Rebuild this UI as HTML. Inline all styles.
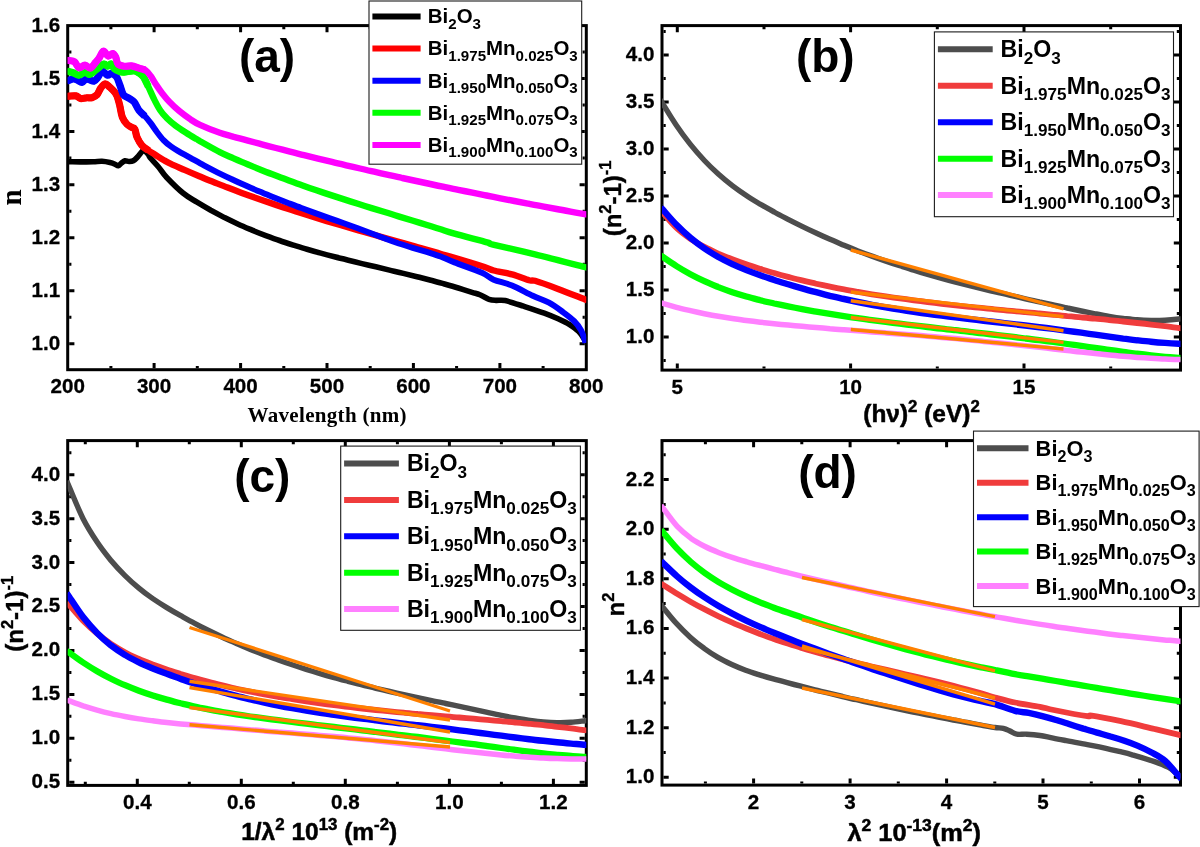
<!DOCTYPE html>
<html lang="en"><head><meta charset="utf-8"><title>Refractive index and dispersion of Bi2O3 and Mn-doped Bi2O3</title>
<style>html,body{margin:0;padding:0;background:#fff}body{width:1200px;height:847px;overflow:hidden}svg{display:block;will-change:transform}</style>
</head><body>
<svg width="1200" height="847" viewBox="0 0 1200 847">
<rect width="1200" height="847" fill="#fff"/>
<g id="panel-a">
<path d="M154.1 368.2v-5.2M154.1 27.1v5.2M240.6 368.2v-5.2M240.6 27.1v5.2M327 368.2v-5.2M327 27.1v5.2M413.4 368.2v-5.2M413.4 27.1v5.2M499.9 368.2v-5.2M499.9 27.1v5.2M110.9 368.2v-2.2M110.9 27.1v2.2M197.3 368.2v-2.2M197.3 27.1v2.2M283.8 368.2v-2.2M283.8 27.1v2.2M370.2 368.2v-2.2M370.2 27.1v2.2M456.6 368.2v-2.2M456.6 27.1v2.2M543.1 368.2v-2.2M543.1 27.1v2.2M69.2 343.8h5.2M584.8 343.8h-5.2M69.2 290.7h5.2M584.8 290.7h-5.2M69.2 237.7h5.2M584.8 237.7h-5.2M69.2 184.7h5.2M584.8 184.7h-5.2M69.2 131.6h5.2M584.8 131.6h-5.2M69.2 78.6h5.2M584.8 78.6h-5.2M69.2 317.2h2.2M584.8 317.2h-2.2M69.2 264.2h2.2M584.8 264.2h-2.2M69.2 211.2h2.2M584.8 211.2h-2.2M69.2 158.1h2.2M584.8 158.1h-2.2M69.2 105.1h2.2M584.8 105.1h-2.2M69.2 52.1h2.2M584.8 52.1h-2.2" stroke="#000" stroke-width="3" fill="none"/>
<rect x="67.7" y="25.6" width="518.6" height="344.1" fill="none" stroke="#000" stroke-width="3"/>
<clipPath id="clip-a"><rect x="67.7" y="25.6" width="518.6" height="344.1"/></clipPath>
<g clip-path="url(#clip-a)" fill="none" stroke-linejoin="round" stroke-width="6.4">
<path d="M66.7 161.7C67 161.7 66.1 161.7 68.3 161.7C70.5 161.7 75.8 161.9 80 161.9C84.2 161.9 89.6 161.8 93.3 161.7C97 161.6 99.2 161.2 102 161.3C104.8 161.4 107.8 162 110 162.5C112.2 163 113.6 163.6 115 164.2C116.4 164.8 117.2 166 118.3 165.8C119.4 165.6 120.4 163.8 121.5 163C122.6 162.2 123.8 161.1 125 160.8C126.2 160.6 127.6 161.5 129 161.5C130.4 161.5 131.8 161.6 133.3 160.8C134.8 160 136.3 158.2 138 156.5C139.7 154.8 141.6 151.2 143.3 150.8C145 150.4 146.9 152.9 148 154C149.1 155.1 148.3 155.4 150 157.5C151.7 159.6 155.5 163.4 158.3 166.7C161.1 170 162.5 173.1 166.7 177.5C170.9 181.9 178.2 189.2 183.3 193.3C188.4 197.5 192.5 199.4 197 202.2C201.6 205 206.2 207.7 210.8 210.3C215.4 212.8 220 215.2 224.5 217.6C229.1 219.9 233.7 222.1 238.3 224.2C242.9 226.3 247.5 228.2 252 230.1C256.6 232.1 261.2 233.9 265.8 235.6C270.4 237.3 275 239 279.5 240.5C284.1 242.1 288.7 243.6 293.3 245.1C297.9 246.5 302.4 247.9 307 249.2C311.6 250.6 316.2 251.9 320.8 253.1C325.4 254.4 329.9 255.6 334.5 256.8C339.1 258 343.7 259.1 348.3 260.2C352.9 261.4 357.4 262.5 362 263.6C366.6 264.7 371.2 265.7 375.8 266.8C380.3 267.9 384.9 269 389.5 270.1C394.1 271.2 398.7 272.2 403.3 273.4C407.8 274.5 412.4 275.6 417 276.7C421.6 277.9 426.2 279.1 430.8 280.3C435.3 281.5 439.9 282.7 444.5 284C449.1 285.3 453.7 286.6 458.3 288C462.8 289.4 468.4 291.2 472 292.3C475.6 293.4 477.1 293.5 479.9 294.7C482.7 295.9 486.3 298.4 489 299.3C491.7 300.2 493.3 300.2 496 300.4C498.7 300.6 500.6 299.6 505.2 300.6C509.8 301.6 517.1 304.1 523.6 306.2C530.1 308.3 538.5 311 544.3 313.1C550 315.2 553.9 316.9 558.1 318.8C562.3 320.7 566.2 322.5 569.6 324.6C573 326.7 576.3 329 578.8 331.5C581.3 334 583.5 337.9 584.6 339.6C585.7 341.4 585.3 341.6 585.4 342" stroke="#000000" stroke-width="5.6"/>
<path d="M66.5 96.3C66.8 96.3 66.9 96.3 68.5 96.2C70.1 96.2 74 95.5 76 95.9C78 96.3 78.8 98.2 80.5 98.5C82.2 98.8 84.6 97.9 86.5 97.8C88.4 97.6 90 98.2 91.8 97.8C93.5 97.2 95.5 96.4 97 94.8C98.5 93.1 99.4 89.8 100.8 88C102.1 86.2 103.8 84 105.2 83.9C106.8 83.8 108.1 85.8 109.8 87.2C111.4 88.7 113.8 91 115 92.5C116.2 94 116.3 94.3 117 96C117.7 97.7 118.5 100.7 119 102.5C119.5 104.3 119.4 104.2 120 106.7C120.6 109.2 121.2 114.3 122.4 117.3C123.6 120.2 125.5 122.7 127.1 124.4C128.7 126.1 130.5 126.6 131.8 127.4C133.1 128.2 133.9 127.4 134.8 129.1C135.7 130.8 135.9 134.7 137.1 137.4C138.3 140.1 140 143.1 141.9 145.3C143.8 147.5 146.2 148.8 148.6 150.5C150.9 152.2 153.5 153.6 156 155.2C158.5 156.8 161 158.6 163.5 160C166 161.4 167.3 162.2 170.9 163.9C174.5 165.6 180.4 168.1 185.1 170.2C189.8 172.3 194.5 174.3 199.3 176.3C204 178.2 208.7 180.2 213.4 182C218.2 183.9 222.9 185.8 227.6 187.6C232.3 189.4 237.1 191.2 241.8 192.9C246.5 194.6 251.3 196.3 256 198C260.7 199.7 265.4 201.3 270.2 202.9C274.9 204.5 279.6 206.1 284.3 207.7C289.1 209.2 293.8 210.8 298.5 212.3C303.2 213.8 308 215.3 312.7 216.7C317.4 218.2 322.2 219.6 326.9 221.1C331.6 222.5 336.3 223.9 341.1 225.3C345.8 226.7 350.5 228.1 355.2 229.5C360 230.8 364.7 232.2 369.4 233.5C374.1 234.9 378.9 236.2 383.6 237.6C388.3 238.9 393.1 240.3 397.8 241.6C402.5 243 407.2 244.3 412 245.6C416.7 247 421.4 248.3 426.1 249.6C430.9 251 435.6 252.3 440.3 253.7C445 255.1 447.1 255.6 454.5 257.8C461.9 260 478 264.9 484.5 267C491 269.1 489.1 269.3 493.7 270.5C498.3 271.7 506.1 272.8 512 274.4C517.9 276 525.2 279.2 529 280.3C532.8 281.4 530.2 279.4 535 280.8C539.8 282.2 549.7 285.8 558 288.9C566.3 292 579.7 297.4 584.6 299.3C589.5 301.2 586.8 300.2 587.3 300.4" stroke="#ff0000"/>
<path d="M66.5 96.3C66.8 96.3 66.9 96.3 68.5 96.2C70.1 96.2 74 95.5 76 95.9C78 96.3 78.8 98.2 80.5 98.5C82.2 98.8 84.6 97.9 86.5 97.8C88.4 97.6 90 98.2 91.8 97.8C93.5 97.2 95.5 96.4 97 94.8C98.5 93.1 99.4 89.8 100.8 88C102.1 86.2 103.8 84 105.2 83.9C106.8 83.8 108.1 85.8 109.8 87.2C111.4 88.7 113.8 91 115 92.5C116.2 94 116.3 94.3 117 96C117.7 97.7 118.5 100.7 119 102.5C119.5 104.3 119.4 104.2 120 106.7C120.6 109.2 121.2 114.3 122.4 117.3C123.6 120.2 125.5 122.7 127.1 124.4C128.7 126.1 130.5 126.6 131.8 127.4C133.1 128.2 133.9 127.4 134.8 129.1C135.7 130.8 135.9 134.7 137.1 137.4C138.3 140.1 140 143.1 141.9 145.3C143.8 147.5 147.5 149.6 148.6 150.5" stroke="#ff0000" stroke-width="7.2"/>
<path d="M66.5 81C66.8 80.9 67.4 80.8 68.5 80.5C69.6 80.2 71.6 79.1 73 79C74.4 78.9 75.5 79.2 77 79.8C78.5 80.4 80.5 82.5 82 82.4C83.5 82.3 84.5 79.4 85.8 79C87 78.6 88.1 79.4 89.5 79.8C90.9 80.1 92.6 81.6 94 81.2C95.4 80.9 96.4 79.2 97.8 77.5C99.1 75.8 100.6 71.5 102.2 71.1C103.9 70.7 106 74.9 107.5 75.2C109 75.6 109.8 73.2 111.2 73.4C112.8 73.7 115 74.8 116.5 76.8C118 78.8 118.8 82.4 120 85.4C121.2 88.4 121.9 92.7 123.5 94.9C125.1 97.1 127.6 97.2 129.4 98.4C131.2 99.6 132.6 100 134.2 102C135.8 104 137.1 107.9 138.9 110.2C140.7 112.5 142.8 113.9 144.8 116.1C146.8 118.3 148.7 120.6 150.7 123.2C152.7 125.8 154.5 128.7 156.6 131.5C158.7 134.3 161.1 137.6 163.5 140.1C165.9 142.6 168.4 144.6 170.9 146.4C173.4 148.2 175.1 149.3 178.3 151.2C181.5 153.1 185.7 155.2 190 157.6C194.3 160 199.3 162.9 203.9 165.4C208.6 167.9 213.2 170.3 217.8 172.6C222.5 174.9 227.1 177.1 231.8 179.2C236.4 181.4 241 183.5 245.7 185.5C250.3 187.6 255 189.6 259.6 191.5C264.2 193.5 268.9 195.4 273.5 197.3C278.2 199.1 282.8 200.9 287.4 202.7C292.1 204.5 296.7 206.3 301.4 208C306 209.7 310.6 211.4 315.3 213.1C319.9 214.8 324.6 216.4 329.2 218.1C333.9 219.7 338.5 221.3 343.1 223C347.8 224.7 352.4 226.3 357.1 228C361.7 229.7 366.3 231.4 371 233.2C375.6 234.9 380.3 236.7 384.9 238.5C389.5 240.2 394.2 241.9 398.8 243.5C403.5 245 408.1 246.4 412.7 247.8C417.4 249.2 422 250.5 426.7 251.9C431.3 253.4 435.9 254.8 440.6 256.5C445.2 258.3 447.6 259.7 454.5 262.4C461.4 265.1 475.5 269.9 482 272.8C488.5 275.7 488.7 277.6 493.7 279.7C498.7 281.8 505.5 282.8 512 285.5C518.5 288.2 526.6 292.9 532.8 295.8C539 298.7 544 300 549 302.7C554 305.4 558.5 308.8 562.7 311.9C566.9 315 571.1 318 574.2 321.1C577.3 324.2 579.4 327.3 581.1 330.4C582.8 333.5 583.9 337.5 584.6 339.6C585.3 341.7 585.3 342.4 585.4 343" stroke="#0000ff" stroke-width="6.0"/>
<path d="M66.5 81C66.8 80.9 67.4 80.8 68.5 80.5C69.6 80.2 71.6 79.1 73 79C74.4 78.9 75.5 79.2 77 79.8C78.5 80.4 80.5 82.5 82 82.4C83.5 82.3 84.5 79.4 85.8 79C87 78.6 88.1 79.4 89.5 79.8C90.9 80.1 92.6 81.6 94 81.2C95.4 80.9 96.4 79.2 97.8 77.5C99.1 75.8 100.6 71.5 102.2 71.1C103.9 70.7 106 74.9 107.5 75.2C109 75.6 109.8 73.2 111.2 73.4C112.8 73.7 115 74.8 116.5 76.8C118 78.8 118.8 82.4 120 85.4C121.2 88.4 121.9 92.7 123.5 94.9C125.1 97.1 127.6 97.2 129.4 98.4C131.2 99.6 132.6 100 134.2 102C135.8 104 137.1 107.9 138.9 110.2C140.7 112.5 143.8 115.1 144.8 116.1" stroke="#0000ff" stroke-width="7.2"/>
<path d="M66.5 71C66.8 71.1 67.3 71.2 68.5 71.5C69.7 71.8 72 72.4 73.8 73C75.5 73.6 77.1 75.4 79 75.2C80.9 75.1 83.2 72.4 85 72.2C86.8 72.1 88 74.6 89.5 74.5C91 74.4 92.5 72.6 94 71.5C95.5 70.4 96.8 69 98.5 67.8C100.2 66.5 102.6 64.2 104.1 64C105.6 63.8 106.3 66.2 107.5 66.2C108.7 66.2 110.1 63.6 111.2 64C112.4 64.4 112.9 67.2 114.2 68.5C115.6 69.8 117.9 70.9 119.5 71.5C121.1 72.1 121.6 72.4 124 72.2C126.4 72.1 131.2 70.6 133.8 70.8C136.2 70.9 137.4 71.9 139 73C140.6 74.1 142 74.9 143.6 77.2C145.2 79.5 146.5 82.9 148.3 86.6C150.1 90.3 152.3 95.7 154.3 99.6C156.3 103.5 158 107 160.2 110.2C162.3 113.4 164.6 115.9 167.2 118.5C169.8 121.1 172.3 123.2 175.5 125.6C178.7 128 182.5 130.4 186.1 132.7C189.7 135 194.5 137.9 196.8 139.3C199.1 140.7 196.2 139.1 200 141.2C203.8 143.3 214.2 149.3 219.8 152.1C225.4 155 229 156.3 233.6 158.4C238.2 160.4 242.8 162.4 247.4 164.3C252 166.2 256.6 168.1 261.2 170C265.8 171.8 270.4 173.6 275 175.3C279.6 177.1 284.2 178.8 288.8 180.5C293.4 182.2 298 183.9 302.6 185.5C307.2 187.1 311.8 188.7 316.4 190.3C321 191.8 325.6 193.4 330.2 194.9C334.8 196.4 339.5 197.9 344.1 199.4C348.7 200.9 353.3 202.3 357.9 203.8C362.5 205.2 367.1 206.7 371.7 208.1C376.3 209.5 380.9 210.9 385.5 212.3C390.1 213.8 394.7 215.2 399.3 216.6C403.9 218 408.5 219.4 413.1 220.8C417.7 222.2 422.3 223.6 426.9 225C431.5 226.5 436.1 227.9 440.7 229.3C445.3 230.8 446.8 231.5 454.5 233.7C462.2 235.9 480.6 240.5 487 242.3C493.4 244.1 485 242.6 493 244.6C501 246.6 519.7 250.7 535 254.4C550.3 258.1 575.9 264.8 584.6 267C593.3 269.2 586.8 267.6 587.3 267.7" stroke="#00ff00"/>
<path d="M66.5 71C66.8 71.1 67.3 71.2 68.5 71.5C69.7 71.8 72 72.4 73.8 73C75.5 73.6 77.1 75.4 79 75.2C80.9 75.1 83.2 72.4 85 72.2C86.8 72.1 88 74.6 89.5 74.5C91 74.4 92.5 72.6 94 71.5C95.5 70.4 96.8 69 98.5 67.8C100.2 66.5 102.6 64.2 104.1 64C105.6 63.8 106.3 66.2 107.5 66.2C108.7 66.2 110.1 63.6 111.2 64C112.4 64.4 112.9 67.2 114.2 68.5C115.6 69.8 117.9 70.9 119.5 71.5C121.1 72.1 121.6 72.4 124 72.2C126.4 72.1 131.2 70.6 133.8 70.8C136.2 70.9 137.4 71.9 139 73C140.6 74.1 142 74.9 143.6 77.2C145.2 79.5 147.5 85 148.3 86.6" stroke="#00ff00" stroke-width="7.2"/>
<path d="M66.5 60.2C67 60.3 67.9 60.3 69.2 60.6C70.6 60.9 72.9 60.6 74.5 61.8C76.1 62.9 77.2 67.2 79 67.8C80.8 68.3 83.1 65 85 65.1C86.9 65.2 88.5 68.5 90.2 68.1C92 67.7 94 64.2 95.5 62.5C97 60.8 97.9 59.9 99.2 58C100.6 56.1 101.9 51.6 103.4 51.2C104.9 50.9 106.7 55.7 108.2 56.1C109.8 56.5 111.5 53.3 112.8 53.5C114 53.7 114.9 55.5 115.8 57.2C116.6 59 116.6 62.5 118 64C119.4 65.5 121.8 65.9 124 66.2C126.2 66.6 129 65.6 131.5 65.9C134 66.2 136.7 67.4 139 68.1C141.3 68.8 143.5 68.8 145.4 70.1C147.3 71.4 148.8 73.5 150.7 76C152.6 78.5 154.6 82.5 156.6 85.4C158.6 88.4 160.3 90.9 162.5 93.7C164.7 96.5 166.8 99.2 169.6 102C172.3 104.8 175.4 107.8 179 110.8C182.6 113.8 187.4 117.3 190.9 119.7C194.4 122.1 195.2 122.7 200 124.9C204.8 127.1 214.2 130.9 219.8 132.8C225.4 134.8 229.2 135.5 233.8 136.8C238.5 138 243.2 139.3 247.9 140.6C252.5 141.8 257.2 143.1 261.9 144.3C266.6 145.6 271.2 146.8 275.9 148C280.6 149.2 285.3 150.4 290 151.6C294.6 152.8 299.3 153.9 304 155.1C308.7 156.3 313.3 157.4 318 158.6C322.7 159.7 327.4 160.8 332 161.9C336.7 163.1 341.4 164.2 346.1 165.3C350.8 166.4 355.4 167.4 360.1 168.5C364.8 169.6 369.5 170.7 374.1 171.7C378.8 172.8 383.5 173.8 388.2 174.9C392.8 175.9 397.5 176.9 402.2 178C406.9 179 411.6 180 416.2 181C420.9 182 425.6 183 430.3 184C434.9 185 439.6 186 444.3 186.9C449 187.9 453.6 188.9 458.3 189.8C463 190.8 467.7 191.7 472.4 192.7C477 193.6 481.7 194.6 486.4 195.5C491.1 196.4 495.7 197.4 500.4 198.3C505.1 199.2 509.8 200.1 514.4 201C519.1 201.9 523.8 202.8 528.5 203.7C533.2 204.6 537.8 205.5 542.5 206.3C547.2 207.2 551.9 208.1 556.5 209C561.2 209.8 565.9 210.7 570.6 211.6C575.2 212.4 581.8 213.6 584.6 214.1C587.4 214.6 586.8 214.5 587.3 214.6" stroke="#ff00ff"/>
<path d="M66.5 60.2C67 60.3 67.9 60.3 69.2 60.6C70.6 60.9 72.9 60.6 74.5 61.8C76.1 62.9 77.2 67.2 79 67.8C80.8 68.3 83.1 65 85 65.1C86.9 65.2 88.5 68.5 90.2 68.1C92 67.7 94 64.2 95.5 62.5C97 60.8 97.9 59.9 99.2 58C100.6 56.1 101.9 51.6 103.4 51.2C104.9 50.9 106.7 55.7 108.2 56.1C109.8 56.5 111.5 53.3 112.8 53.5C114 53.7 114.9 55.5 115.8 57.2C116.6 59 116.6 62.5 118 64C119.4 65.5 121.8 65.9 124 66.2C126.2 66.6 129 65.6 131.5 65.9C134 66.2 136.7 67.4 139 68.1C141.3 68.8 144.3 69.8 145.4 70.1" stroke="#ff00ff" stroke-width="7.2"/>
</g>
<g font-family='"Liberation Sans", Arial, Helvetica, sans-serif' font-weight="bold" font-size="20.6" fill="#000" stroke="#000" stroke-width="0.3">
<g text-anchor="middle">
<text x="67.7" y="393.3">200</text>
<text x="154.1" y="393.3">300</text>
<text x="240.6" y="393.3">400</text>
<text x="327" y="393.3">500</text>
<text x="413.4" y="393.3">600</text>
<text x="499.9" y="393.3">700</text>
<text x="586.3" y="393.3">800</text>
</g><g text-anchor="end">
<text x="60.1" y="349.6">1.0</text>
<text x="60.1" y="296.6">1.1</text>
<text x="60.1" y="243.6">1.2</text>
<text x="60.1" y="190.6">1.3</text>
<text x="60.1" y="137.5">1.4</text>
<text x="60.1" y="84.5">1.5</text>
<text x="60.1" y="31.5">1.6</text>
</g></g>
<rect x="369" y="1" width="212.7" height="163.2" fill="#fff" stroke="#1c1c1c" stroke-width="1.1"/>
<path d="M372.4 16.5H420.6" stroke="#000000" stroke-width="6"/>
<path d="M372.4 48.6H420.6" stroke="#ff0000" stroke-width="6"/>
<path d="M372.4 80.7H420.6" stroke="#0000ff" stroke-width="6"/>
<path d="M372.4 112.8H420.6" stroke="#00ff00" stroke-width="6"/>
<path d="M372.4 144.9H420.6" stroke="#ff00ff" stroke-width="6"/>
<g font-family='"Liberation Sans", Arial, Helvetica, sans-serif' font-weight="bold" font-size="20.3" fill="#000" transform="translate(427.8 0) scale(1.008 1) translate(-427.8 0)">
<text x="427.8" y="23.4" id="lg369_0">Bi<tspan font-size="15" dy="5.6">2</tspan><tspan dy="-5.6">O</tspan><tspan font-size="15" dy="5.6">3</tspan></text>
<text x="427.8" y="55.5" id="lg369_1">Bi<tspan font-size="15" dy="5.6">1.975</tspan><tspan dy="-5.6">Mn</tspan><tspan font-size="15" dy="5.6">0.025</tspan><tspan dy="-5.6">O</tspan><tspan font-size="15" dy="5.6">3</tspan></text>
<text x="427.8" y="87.6" id="lg369_2">Bi<tspan font-size="15" dy="5.6">1.950</tspan><tspan dy="-5.6">Mn</tspan><tspan font-size="15" dy="5.6">0.050</tspan><tspan dy="-5.6">O</tspan><tspan font-size="15" dy="5.6">3</tspan></text>
<text x="427.8" y="119.7" id="lg369_3">Bi<tspan font-size="15" dy="5.6">1.925</tspan><tspan dy="-5.6">Mn</tspan><tspan font-size="15" dy="5.6">0.075</tspan><tspan dy="-5.6">O</tspan><tspan font-size="15" dy="5.6">3</tspan></text>
<text x="427.8" y="151.8" id="lg369_4">Bi<tspan font-size="15" dy="5.6">1.900</tspan><tspan dy="-5.6">Mn</tspan><tspan font-size="15" dy="5.6">0.100</tspan><tspan dy="-5.6">O</tspan><tspan font-size="15" dy="5.6">3</tspan></text>
</g>
<text x="267" y="72.4" text-anchor="middle" font-family='"Liberation Sans", Arial, Helvetica, sans-serif' font-weight="bold" font-size="46" id="la">(a)</text>
<text transform="translate(21.4 197.5) rotate(-90)" text-anchor="middle" font-family='"Liberation Serif", "Times New Roman", serif' font-weight="bold" font-size="29" id="ya">n</text>
<text x="327.1" y="421.6" text-anchor="middle" font-family='"Liberation Serif", "Times New Roman", serif' font-weight="bold" font-size="21" id="xa" textLength="159" lengthAdjust="spacing">Wavelength (nm)</text>
</g>
<g id="panel-b">
<path d="M677.3 368.6v-5.2M677.3 27.1v5.2M850.6 368.6v-5.2M850.6 27.1v5.2M1024 368.6v-5.2M1024 27.1v5.2M764 368.6v-2.2M764 27.1v2.2M937.3 368.6v-2.2M937.3 27.1v2.2M1110.7 368.6v-2.2M1110.7 27.1v2.2M663.5 337h5.2M1179 337h-5.2M663.5 290h5.2M1179 290h-5.2M663.5 243h5.2M1179 243h-5.2M663.5 196h5.2M1179 196h-5.2M663.5 149h5.2M1179 149h-5.2M663.5 102h5.2M1179 102h-5.2M663.5 55h5.2M1179 55h-5.2M663.5 360.5h2.2M1179 360.5h-2.2M663.5 313.5h2.2M1179 313.5h-2.2M663.5 266.5h2.2M1179 266.5h-2.2M663.5 219.5h2.2M1179 219.5h-2.2M663.5 172.5h2.2M1179 172.5h-2.2M663.5 125.5h2.2M1179 125.5h-2.2M663.5 78.5h2.2M1179 78.5h-2.2M663.5 31.5h2.2M1179 31.5h-2.2" stroke="#000" stroke-width="3" fill="none"/>
<rect x="662" y="25.6" width="518.5" height="344.5" fill="none" stroke="#000" stroke-width="3"/>
<clipPath id="clip-b"><rect x="662" y="25.6" width="518.5" height="344.5"/></clipPath>
<g clip-path="url(#clip-b)" fill="none" stroke-linejoin="round" stroke-width="6.4">
<path d="M661 100.9C661.2 101.3 659.9 99.2 662.5 103.3C665.1 107.4 671.8 118.7 676.5 125.5C681.1 132.4 685.8 138.6 690.4 144.4C695.1 150.2 699.7 155.5 704.4 160.5C709 165.4 713.7 169.9 718.3 174C723 178.2 727.6 182 732.3 185.6C737 189.2 741.6 192.4 746.3 195.5C750.9 198.6 755.6 201.4 760.2 204.2C764.9 206.9 769.5 209.5 774.2 212C778.8 214.6 783.5 217 788.1 219.4C792.8 221.8 797.4 224.1 802.1 226.4C806.7 228.7 811.4 230.9 816.1 233C820.7 235.2 825.4 237.3 830 239.3C834.7 241.4 839.3 243.3 844 245.3C848.6 247.2 853.3 249 857.9 250.9C862.6 252.7 867.2 254.4 871.9 256.1C876.5 257.8 881.2 259.5 885.9 261.1C890.5 262.7 895.2 264.3 899.8 265.8C904.5 267.3 909.1 268.8 913.8 270.2C918.4 271.6 923.1 273 927.7 274.4C932.4 275.7 937 277 941.7 278.3C946.3 279.6 951 280.9 955.6 282.1C960.3 283.3 965 284.5 969.6 285.7C974.3 286.8 978.9 288 983.6 289.1C988.2 290.2 992.9 291.3 997.5 292.4C1002.2 293.5 1006.8 294.6 1011.5 295.6C1016.1 296.7 1020.8 297.7 1025.4 298.8C1030.1 299.8 1034.8 300.8 1039.4 301.9C1044.1 302.9 1048.7 303.9 1053.4 304.9C1058 305.9 1062.7 306.9 1067.3 308C1072 309 1076.6 310 1081.3 311C1085.9 311.9 1090.6 312.9 1095.2 313.8C1099.9 314.7 1104.5 315.6 1109.2 316.3C1113.9 317.1 1118.5 317.8 1123.2 318.4C1127.8 318.9 1132.5 319.5 1137.1 319.8C1141.8 320.2 1146.4 320.4 1151.1 320.5C1155.7 320.6 1160.4 320.5 1165 320.3C1169.7 320 1176.3 319.3 1179 319C1181.7 318.8 1181.1 318.8 1181.5 318.8" stroke="#4d4d4d" stroke-width="5.4"/>
<path d="M661 210.8C661.2 211.1 659.9 209.7 662.5 212.5C665.1 215.4 671.8 223.6 676.5 228C681.1 232.4 685.8 235.7 690.4 238.9C695.1 242.1 699.7 244.5 704.4 246.9C709 249.4 713.7 251.5 718.3 253.6C723 255.6 727.6 257.5 732.3 259.3C737 261.1 741.6 262.7 746.3 264.3C750.9 265.9 755.6 267.4 760.2 268.9C764.9 270.3 769.5 271.7 774.2 273C778.8 274.4 783.5 275.7 788.1 276.9C792.8 278.1 797.4 279.3 802.1 280.4C806.7 281.6 811.4 282.6 816.1 283.7C820.7 284.7 825.4 285.7 830 286.7C834.7 287.6 839.3 288.5 844 289.4C848.6 290.3 853.3 291.1 857.9 291.9C862.6 292.7 867.2 293.5 871.9 294.3C876.5 295 881.2 295.7 885.9 296.4C890.5 297.1 895.2 297.8 899.8 298.4C904.5 299.1 909.1 299.7 913.8 300.3C918.4 300.9 923.1 301.5 927.7 302.1C932.4 302.7 937 303.2 941.7 303.8C946.3 304.3 951 304.8 955.6 305.3C960.3 305.8 965 306.3 969.6 306.8C974.3 307.3 978.9 307.8 983.6 308.2C988.2 308.7 992.9 309.2 997.5 309.6C1002.2 310.1 1006.8 310.5 1011.5 310.9C1016.1 311.4 1020.8 311.8 1025.4 312.2C1030.1 312.7 1034.8 313.1 1039.4 313.5C1044.1 313.9 1048.7 314.4 1053.4 314.8C1058 315.2 1062.7 315.6 1067.3 316.1C1072 316.5 1076.6 316.9 1081.3 317.4C1085.9 317.8 1090.6 318.2 1095.2 318.7C1099.9 319.1 1104.5 319.6 1109.2 320.1C1113.9 320.5 1118.5 321 1123.2 321.5C1127.8 322 1132.5 322.5 1137.1 323C1141.8 323.5 1146.4 324 1151.1 324.6C1155.7 325.1 1160.4 325.7 1165 326.2C1169.7 326.8 1176.3 327.7 1179 328C1181.7 328.4 1181.1 328.3 1181.5 328.3" stroke="#f03c3c" stroke-width="5.8"/>
<path d="M661 207.6C661.2 207.8 659.9 206.4 662.5 209.2C665.1 212.1 671.8 220.1 676.5 224.8C681.1 229.6 685.8 233.8 690.4 237.7C695.1 241.6 699.7 245.1 704.4 248.3C709 251.5 713.7 254.3 718.3 257C723 259.6 727.6 261.9 732.3 264.1C737 266.3 741.6 268.2 746.3 270.1C750.9 271.9 755.6 273.6 760.2 275.2C764.9 276.9 769.5 278.4 774.2 280C778.8 281.5 783.5 282.9 788.1 284.3C792.8 285.8 797.4 287.1 802.1 288.4C806.7 289.8 811.4 291 816.1 292.2C820.7 293.5 825.4 294.6 830 295.8C834.7 296.9 839.3 298 844 299C848.6 300 853.3 301 857.9 302C862.6 303 867.2 303.9 871.9 304.8C876.5 305.7 881.2 306.5 885.9 307.3C890.5 308.1 895.2 308.9 899.8 309.7C904.5 310.4 909.1 311.1 913.8 311.8C918.4 312.5 923.1 313.2 927.7 313.8C932.4 314.4 937 315.1 941.7 315.7C946.3 316.3 951 316.8 955.6 317.4C960.3 318 965 318.5 969.6 319.1C974.3 319.6 978.9 320.2 983.6 320.7C988.2 321.2 992.9 321.8 997.5 322.3C1002.2 322.8 1006.8 323.4 1011.5 323.9C1016.1 324.4 1020.8 325 1025.4 325.5C1030.1 326.1 1034.8 326.6 1039.4 327.2C1044.1 327.8 1048.7 328.3 1053.4 328.9C1058 329.5 1062.7 330.2 1067.3 330.8C1072 331.4 1076.6 332.1 1081.3 332.7C1085.9 333.4 1090.6 334.1 1095.2 334.7C1099.9 335.4 1104.5 336 1109.2 336.7C1113.9 337.3 1118.5 338 1123.2 338.6C1127.8 339.1 1132.5 339.7 1137.1 340.3C1141.8 340.8 1146.4 341.3 1151.1 341.7C1155.7 342.2 1160.4 342.6 1165 342.9C1169.7 343.3 1176.3 343.6 1179 343.7C1181.7 343.9 1181.1 343.9 1181.5 343.9" stroke="#0000ff" stroke-width="6.4"/>
<path d="M661 255.7C661.2 255.9 659.9 255 662.5 256.7C665.1 258.5 671.8 263.2 676.5 266.1C681.1 269 685.8 271.7 690.4 274.2C695.1 276.7 699.7 279 704.4 281.1C709 283.3 713.7 285.2 718.3 287.1C723 288.9 727.6 290.6 732.3 292.2C737 293.7 741.6 295.1 746.3 296.5C750.9 297.8 755.6 299 760.2 300.2C764.9 301.4 769.5 302.4 774.2 303.5C778.8 304.5 783.5 305.4 788.1 306.4C792.8 307.3 797.4 308.2 802.1 309.1C806.7 309.9 811.4 310.8 816.1 311.6C820.7 312.4 825.4 313.2 830 313.9C834.7 314.7 839.3 315.4 844 316.1C848.6 316.8 853.3 317.5 857.9 318.1C862.6 318.8 867.2 319.5 871.9 320.1C876.5 320.7 881.2 321.3 885.9 321.9C890.5 322.5 895.2 323.1 899.8 323.7C904.5 324.3 909.1 324.8 913.8 325.4C918.4 325.9 923.1 326.5 927.7 327C932.4 327.6 937 328.1 941.7 328.6C946.3 329.2 951 329.7 955.6 330.2C960.3 330.8 965 331.3 969.6 331.8C974.3 332.4 978.9 332.9 983.6 333.4C988.2 334 992.9 334.5 997.5 335.1C1002.2 335.6 1006.8 336.2 1011.5 336.7C1016.1 337.3 1020.8 337.9 1025.4 338.5C1030.1 339 1034.8 339.6 1039.4 340.2C1044.1 340.8 1048.7 341.4 1053.4 342C1058 342.7 1062.7 343.3 1067.3 344C1072 344.6 1076.6 345.3 1081.3 345.9C1085.9 346.6 1090.6 347.3 1095.2 347.9C1099.9 348.6 1104.5 349.3 1109.2 349.9C1113.9 350.6 1118.5 351.2 1123.2 351.8C1127.8 352.5 1132.5 353.1 1137.1 353.7C1141.8 354.2 1146.4 354.8 1151.1 355.3C1155.7 355.8 1160.4 356.3 1165 356.8C1169.7 357.2 1176.3 357.8 1179 358C1181.7 358.3 1181.1 358.2 1181.5 358.2" stroke="#00ff00" stroke-width="6.3"/>
<path d="M661 302.9C661.2 303 659.9 302.6 662.5 303.3C665.1 304 671.8 306 676.5 307.3C681.1 308.5 685.8 309.6 690.4 310.7C695.1 311.8 699.7 312.8 704.4 313.7C709 314.6 713.7 315.5 718.3 316.3C723 317.1 727.6 317.8 732.3 318.5C737 319.2 741.6 319.9 746.3 320.5C750.9 321.1 755.6 321.6 760.2 322.2C764.9 322.7 769.5 323.2 774.2 323.7C778.8 324.2 783.5 324.6 788.1 325.1C792.8 325.5 797.4 325.9 802.1 326.3C806.7 326.8 811.4 327.2 816.1 327.5C820.7 327.9 825.4 328.3 830 328.7C834.7 329 839.3 329.4 844 329.8C848.6 330.1 853.3 330.5 857.9 330.8C862.6 331.2 867.2 331.5 871.9 331.9C876.5 332.2 881.2 332.6 885.9 332.9C890.5 333.3 895.2 333.6 899.8 334C904.5 334.3 909.1 334.7 913.8 335C918.4 335.4 923.1 335.8 927.7 336.2C932.4 336.6 937 337 941.7 337.4C946.3 337.8 951 338.2 955.6 338.6C960.3 339.1 965 339.5 969.6 340C974.3 340.4 978.9 340.9 983.6 341.4C988.2 341.8 992.9 342.3 997.5 342.8C1002.2 343.3 1006.8 343.8 1011.5 344.3C1016.1 344.8 1020.8 345.3 1025.4 345.8C1030.1 346.3 1034.8 346.8 1039.4 347.3C1044.1 347.8 1048.7 348.4 1053.4 348.9C1058 349.4 1062.7 349.9 1067.3 350.4C1072 351 1076.6 351.5 1081.3 352C1085.9 352.5 1090.6 353 1095.2 353.5C1099.9 354 1104.5 354.4 1109.2 354.9C1113.9 355.4 1118.5 355.8 1123.2 356.2C1127.8 356.6 1132.5 357 1137.1 357.4C1141.8 357.7 1146.4 358 1151.1 358.3C1155.7 358.6 1160.4 358.9 1165 359.1C1169.7 359.3 1176.3 359.4 1179 359.5C1181.7 359.6 1181.1 359.6 1181.5 359.6" stroke="#ff80ff" stroke-width="5.5"/>
</g>
<path d="M850.8 250L1063.5 308.8M850.8 292L1063.5 316.6M850.8 300.8L1063.5 330.7M850.8 317.5L1063.5 342.4M850.8 329.5L1063.5 349" stroke="#ff8000" stroke-width="3.4" fill="none"/>
<g font-family='"Liberation Sans", Arial, Helvetica, sans-serif' font-weight="bold" font-size="20.6" fill="#000" stroke="#000" stroke-width="0.3">
<g text-anchor="middle">
<text x="677.3" y="393.7">5</text>
<text x="850.6" y="393.7">10</text>
<text x="1024" y="393.7">15</text>
</g><g text-anchor="end">
<text x="654.4" y="342.9">1.0</text>
<text x="654.4" y="295.9">1.5</text>
<text x="654.4" y="248.9">2.0</text>
<text x="654.4" y="201.9">2.5</text>
<text x="654.4" y="154.9">3.0</text>
<text x="654.4" y="107.9">3.5</text>
<text x="654.4" y="60.9">4.0</text>
</g></g>
<rect x="934.4" y="31.9" width="239.1" height="184.8" fill="#fff" stroke="#1c1c1c" stroke-width="1.1"/>
<path d="M937.9 49.3H992.7" stroke="#4d4d4d" stroke-width="6"/>
<path d="M937.9 85.8H992.7" stroke="#f03c3c" stroke-width="6"/>
<path d="M937.9 122.2H992.7" stroke="#0000ff" stroke-width="6"/>
<path d="M937.9 158.7H992.7" stroke="#00ff00" stroke-width="6"/>
<path d="M937.9 195.1H992.7" stroke="#ff80ff" stroke-width="6"/>
<g font-family='"Liberation Sans", Arial, Helvetica, sans-serif' font-weight="bold" font-size="23" fill="#000" transform="translate(1000.6 0) scale(1.008 1) translate(-1000.6 0)">
<text x="1000.6" y="57.2" id="lg934_0">Bi<tspan font-size="17" dy="6.4">2</tspan><tspan dy="-6.4">O</tspan><tspan font-size="17" dy="6.4">3</tspan></text>
<text x="1000.6" y="93.7" id="lg934_1">Bi<tspan font-size="17" dy="6.4">1.975</tspan><tspan dy="-6.4">Mn</tspan><tspan font-size="17" dy="6.4">0.025</tspan><tspan dy="-6.4">O</tspan><tspan font-size="17" dy="6.4">3</tspan></text>
<text x="1000.6" y="130.1" id="lg934_2">Bi<tspan font-size="17" dy="6.4">1.950</tspan><tspan dy="-6.4">Mn</tspan><tspan font-size="17" dy="6.4">0.050</tspan><tspan dy="-6.4">O</tspan><tspan font-size="17" dy="6.4">3</tspan></text>
<text x="1000.6" y="166.6" id="lg934_3">Bi<tspan font-size="17" dy="6.4">1.925</tspan><tspan dy="-6.4">Mn</tspan><tspan font-size="17" dy="6.4">0.075</tspan><tspan dy="-6.4">O</tspan><tspan font-size="17" dy="6.4">3</tspan></text>
<text x="1000.6" y="203" id="lg934_4">Bi<tspan font-size="17" dy="6.4">1.900</tspan><tspan dy="-6.4">Mn</tspan><tspan font-size="17" dy="6.4">0.100</tspan><tspan dy="-6.4">O</tspan><tspan font-size="17" dy="6.4">3</tspan></text>
</g>
<text x="825.3" y="71.5" text-anchor="middle" font-family='"Liberation Sans", Arial, Helvetica, sans-serif' font-weight="bold" font-size="46" id="lb">(b)</text>
<text transform="translate(621.4 198.4) rotate(-90)" text-anchor="middle" font-family='"Liberation Sans", Arial, Helvetica, sans-serif' font-weight="bold" font-size="24" id="yb" stroke="#000" stroke-width="0.4">(n<tspan font-size="16.5" dy="-10">2</tspan><tspan dy="10">-1)</tspan><tspan font-size="16.5" dy="-10">-1</tspan></text>
<text x="921.5" y="421.7" text-anchor="middle" font-family='"Liberation Sans", Arial, Helvetica, sans-serif' font-weight="bold" font-size="24" id="xb" textLength="116.5" lengthAdjust="spacingAndGlyphs" stroke="#000" stroke-width="0.5">(hν)<tspan font-size="16.5" dy="-10">2</tspan><tspan dy="10"> (eV)</tspan><tspan font-size="16.5" dy="-10">2</tspan></text>
</g>
<g id="panel-c">
<path d="M137.3 783.9v-5.2M137.3 442.1v5.2M241.3 783.9v-5.2M241.3 442.1v5.2M345.3 783.9v-5.2M345.3 442.1v5.2M449.4 783.9v-5.2M449.4 442.1v5.2M553.4 783.9v-5.2M553.4 442.1v5.2M85.3 783.9v-2.2M85.3 442.1v2.2M189.3 783.9v-2.2M189.3 442.1v2.2M293.3 783.9v-2.2M293.3 442.1v2.2M397.4 783.9v-2.2M397.4 442.1v2.2M501.4 783.9v-2.2M501.4 442.1v2.2M69.2 782.2h5.2M584.8 782.2h-5.2M69.2 738.3h5.2M584.8 738.3h-5.2M69.2 694.4h5.2M584.8 694.4h-5.2M69.2 650.4h5.2M584.8 650.4h-5.2M69.2 606.5h5.2M584.8 606.5h-5.2M69.2 562.6h5.2M584.8 562.6h-5.2M69.2 518.7h5.2M584.8 518.7h-5.2M69.2 474.8h5.2M584.8 474.8h-5.2M69.2 760.2h2.2M584.8 760.2h-2.2M69.2 716.3h2.2M584.8 716.3h-2.2M69.2 672.4h2.2M584.8 672.4h-2.2M69.2 628.5h2.2M584.8 628.5h-2.2M69.2 584.6h2.2M584.8 584.6h-2.2M69.2 540.6h2.2M584.8 540.6h-2.2M69.2 496.7h2.2M584.8 496.7h-2.2M69.2 452.8h2.2M584.8 452.8h-2.2" stroke="#000" stroke-width="3" fill="none"/>
<rect x="67.7" y="440.6" width="518.6" height="344.8" fill="none" stroke="#000" stroke-width="3"/>
<clipPath id="clip-c"><rect x="67.7" y="440.6" width="518.6" height="344.8"/></clipPath>
<g clip-path="url(#clip-c)" fill="none" stroke-linejoin="round" stroke-width="6.4">
<path d="M66.7 481C67.1 481.9 66.5 480.4 69.2 486.7C71.9 493 78.5 509.5 83.1 518.7C87.8 527.9 92.4 535 97.1 542C101.7 549 106.4 554.8 111 560.5C115.7 566.1 120.3 571 125 575.6C129.6 580.2 134.3 584.3 138.9 588.1C143.5 592 148.2 595.4 152.8 598.6C157.5 601.8 162.1 604.7 166.8 607.6C171.4 610.4 176.1 613.1 180.7 615.7C185.4 618.3 190 620.9 194.7 623.3C199.3 625.8 204 628.2 208.6 630.5C213.3 632.8 217.9 635 222.5 637.2C227.2 639.4 231.8 641.4 236.5 643.5C241.1 645.5 245.8 647.5 250.4 649.4C255.1 651.3 259.7 653.1 264.4 654.9C269 656.6 273.7 658.4 278.3 660C283 661.7 287.6 663.3 292.2 664.8C296.9 666.4 301.5 667.9 306.2 669.4C310.8 670.8 315.5 672.2 320.1 673.6C324.8 675 329.4 676.3 334.1 677.6C338.7 678.9 343.4 680.1 348 681.3C352.7 682.6 357.3 683.7 362 684.9C366.6 686 371.2 687.2 375.9 688.3C380.5 689.4 385.2 690.4 389.8 691.5C394.5 692.5 399.1 693.6 403.8 694.6C408.4 695.6 413.1 696.6 417.7 697.6C422.4 698.6 427 699.6 431.7 700.6C436.3 701.5 440.9 702.5 445.6 703.5C450.2 704.5 454.9 705.4 459.5 706.4C464.2 707.4 468.8 708.4 473.5 709.4C478.1 710.4 482.8 711.4 487.4 712.4C492.1 713.4 496.7 714.4 501.4 715.3C506 716.3 510.7 717.2 515.3 718C519.9 718.9 524.6 719.6 529.2 720.3C533.9 720.9 538.5 721.5 543.2 721.9C547.8 722.3 552.5 722.6 557.1 722.6C561.8 722.7 566.4 722.6 571.1 722.3C575.7 722 582.3 721 585 720.7C587.7 720.4 586.9 720.5 587.3 720.5" stroke="#4d4d4d" stroke-width="5.4"/>
<path d="M66.7 602.2C67.1 602.7 66.5 601.9 69.2 605C71.9 608.1 78.5 616 83.1 620.8C87.8 625.5 92.4 629.7 97.1 633.6C101.7 637.4 106.4 640.8 111 643.9C115.7 647 120.3 649.7 125 652.2C129.6 654.7 134.3 656.8 138.9 658.9C143.5 660.9 148.2 662.7 152.8 664.5C157.5 666.2 162.1 667.8 166.8 669.4C171.4 671 176.1 672.5 180.7 674C185.4 675.4 190 676.8 194.7 678.1C199.3 679.4 204 680.7 208.6 681.9C213.3 683.2 217.9 684.3 222.5 685.4C227.2 686.6 231.8 687.6 236.5 688.7C241.1 689.7 245.8 690.7 250.4 691.6C255.1 692.6 259.7 693.5 264.4 694.4C269 695.2 273.7 696.1 278.3 696.9C283 697.7 287.6 698.5 292.2 699.2C296.9 700 301.5 700.7 306.2 701.4C310.8 702.1 315.5 702.7 320.1 703.4C324.8 704 329.4 704.6 334.1 705.2C338.7 705.8 343.4 706.4 348 706.9C352.7 707.5 357.3 708 362 708.5C366.6 709 371.2 709.5 375.9 710C380.5 710.5 385.2 710.9 389.8 711.4C394.5 711.8 399.1 712.3 403.8 712.7C408.4 713.1 413.1 713.5 417.7 714C422.4 714.4 427 714.8 431.7 715.2C436.3 715.6 440.9 716 445.6 716.4C450.2 716.8 454.9 717.2 459.5 717.5C464.2 717.9 468.8 718.3 473.5 718.7C478.1 719.1 482.8 719.5 487.4 719.9C492.1 720.3 496.7 720.8 501.4 721.2C506 721.6 510.7 722 515.3 722.5C519.9 722.9 524.6 723.3 529.2 723.8C533.9 724.3 538.5 724.8 543.2 725.2C547.8 725.7 552.5 726.2 557.1 726.8C561.8 727.3 566.4 727.8 571.1 728.4C575.7 729 582.3 729.8 585 730.2C587.7 730.5 586.9 730.4 587.3 730.5" stroke="#f03c3c" stroke-width="5.8"/>
<path d="M66.7 593.1C67.1 593.7 66.5 592.8 69.2 596.7C71.9 600.7 78.5 610.9 83.1 617C87.8 623 92.4 628.2 97.1 632.9C101.7 637.7 106.4 641.7 111 645.4C115.7 649 120.3 652.1 125 654.9C129.6 657.8 134.3 660.1 138.9 662.4C143.5 664.7 148.2 666.6 152.8 668.5C157.5 670.4 162.1 672.1 166.8 673.8C171.4 675.6 176.1 677.2 180.7 678.9C185.4 680.5 190 682.1 194.7 683.6C199.3 685.1 204 686.6 208.6 688C213.3 689.4 217.9 690.8 222.5 692.1C227.2 693.5 231.8 694.7 236.5 695.9C241.1 697.2 245.8 698.3 250.4 699.4C255.1 700.6 259.7 701.6 264.4 702.6C269 703.6 273.7 704.6 278.3 705.5C283 706.5 287.6 707.4 292.2 708.2C296.9 709.1 301.5 709.9 306.2 710.6C310.8 711.4 315.5 712.2 320.1 712.9C324.8 713.6 329.4 714.3 334.1 714.9C338.7 715.6 343.4 716.2 348 716.9C352.7 717.5 357.3 718.1 362 718.7C366.6 719.2 371.2 719.8 375.9 720.4C380.5 720.9 385.2 721.5 389.8 722C394.5 722.6 399.1 723.1 403.8 723.6C408.4 724.2 413.1 724.7 417.7 725.2C422.4 725.8 427 726.3 431.7 726.9C436.3 727.4 440.9 728 445.6 728.5C450.2 729.1 454.9 729.7 459.5 730.3C464.2 730.9 468.8 731.5 473.5 732.1C478.1 732.7 482.8 733.3 487.4 733.9C492.1 734.5 496.7 735.1 501.4 735.7C506 736.3 510.7 736.9 515.3 737.5C519.9 738.1 524.6 738.6 529.2 739.2C533.9 739.8 538.5 740.3 543.2 740.8C547.8 741.3 552.5 741.8 557.1 742.3C561.8 742.8 566.4 743.2 571.1 743.6C575.7 744 582.3 744.5 585 744.8C587.7 745 586.9 744.9 587.3 744.9" stroke="#0000ff" stroke-width="6.4"/>
<path d="M66.7 650.7C67.1 651 66.5 650.6 69.2 652.5C71.9 654.5 78.5 659.4 83.1 662.5C87.8 665.6 92.4 668.5 97.1 671.2C101.7 673.9 106.4 676.4 111 678.7C115.7 681 120.3 683.2 125 685.2C129.6 687.2 134.3 689 138.9 690.7C143.5 692.4 148.2 694 152.8 695.5C157.5 697 162.1 698.3 166.8 699.6C171.4 700.9 176.1 702.1 180.7 703.3C185.4 704.4 190 705.5 194.7 706.5C199.3 707.6 204 708.5 208.6 709.4C213.3 710.3 217.9 711.2 222.5 712C227.2 712.8 231.8 713.6 236.5 714.4C241.1 715.1 245.8 715.8 250.4 716.5C255.1 717.1 259.7 717.8 264.4 718.4C269 719 273.7 719.6 278.3 720.2C283 720.8 287.6 721.4 292.2 722C296.9 722.5 301.5 723.1 306.2 723.6C310.8 724.2 315.5 724.8 320.1 725.3C324.8 725.9 329.4 726.4 334.1 727C338.7 727.5 343.4 728.1 348 728.6C352.7 729.2 357.3 729.7 362 730.3C366.6 730.8 371.2 731.4 375.9 732C380.5 732.5 385.2 733.1 389.8 733.6C394.5 734.2 399.1 734.8 403.8 735.3C408.4 735.9 413.1 736.5 417.7 737C422.4 737.6 427 738.2 431.7 738.8C436.3 739.4 440.9 740 445.6 740.6C450.2 741.2 454.9 741.8 459.5 742.4C464.2 743 468.8 743.6 473.5 744.2C478.1 744.9 482.8 745.5 487.4 746.1C492.1 746.8 496.7 747.4 501.4 748C506 748.7 510.7 749.3 515.3 749.9C519.9 750.5 524.6 751.1 529.2 751.7C533.9 752.3 538.5 752.8 543.2 753.3C547.8 753.9 552.5 754.3 557.1 754.8C561.8 755.2 566.4 755.6 571.1 755.9C575.7 756.3 582.3 756.6 585 756.8C587.7 756.9 586.9 756.9 587.3 756.9" stroke="#00ff00" stroke-width="6.3"/>
<path d="M66.7 699.9C67.1 700.1 66.5 699.8 69.2 700.8C71.9 701.8 78.5 704.3 83.1 705.9C87.8 707.4 92.4 708.8 97.1 710.1C101.7 711.4 106.4 712.6 111 713.6C115.7 714.7 120.3 715.6 125 716.5C129.6 717.4 134.3 718.2 138.9 718.9C143.5 719.6 148.2 720.2 152.8 720.8C157.5 721.4 162.1 722 166.8 722.5C171.4 723 176.1 723.4 180.7 723.9C185.4 724.3 190 724.7 194.7 725.1C199.3 725.5 204 725.9 208.6 726.3C213.3 726.7 217.9 727.1 222.5 727.5C227.2 727.9 231.8 728.3 236.5 728.6C241.1 729 245.8 729.4 250.4 729.8C255.1 730.1 259.7 730.5 264.4 730.9C269 731.2 273.7 731.6 278.3 732C283 732.3 287.6 732.7 292.2 733.1C296.9 733.5 301.5 733.8 306.2 734.2C310.8 734.6 315.5 735 320.1 735.4C324.8 735.8 329.4 736.2 334.1 736.6C338.7 737.1 343.4 737.5 348 737.9C352.7 738.4 357.3 738.8 362 739.3C366.6 739.7 371.2 740.2 375.9 740.7C380.5 741.2 385.2 741.7 389.8 742.2C394.5 742.7 399.1 743.3 403.8 743.8C408.4 744.4 413.1 744.9 417.7 745.5C422.4 746 427 746.6 431.7 747.2C436.3 747.7 440.9 748.3 445.6 748.8C450.2 749.4 454.9 749.9 459.5 750.5C464.2 751 468.8 751.6 473.5 752.1C478.1 752.6 482.8 753.1 487.4 753.6C492.1 754 496.7 754.5 501.4 754.9C506 755.4 510.7 755.8 515.3 756.2C519.9 756.5 524.6 756.9 529.2 757.2C533.9 757.5 538.5 757.8 543.2 758C547.8 758.3 552.5 758.5 557.1 758.6C561.8 758.8 566.4 758.9 571.1 759C575.7 759 582.3 759 585 759C587.7 759 586.9 759 587.3 759" stroke="#ff80ff" stroke-width="5.5"/>
</g>
<path d="M189.5 627.5L450 711M189.5 681.3L450 720M189.5 687.5L450 732M189.5 707.5L450 742.5M189.5 724.7L450 747" stroke="#ff8000" stroke-width="3.4" fill="none"/>
<g font-family='"Liberation Sans", Arial, Helvetica, sans-serif' font-weight="bold" font-size="20.6" fill="#000" stroke="#000" stroke-width="0.3">
<g text-anchor="middle">
<text x="137.3" y="809">0.4</text>
<text x="241.3" y="809">0.6</text>
<text x="345.3" y="809">0.8</text>
<text x="449.4" y="809">1.0</text>
<text x="553.4" y="809">1.2</text>
</g><g text-anchor="end">
<text x="60.1" y="788.1">0.5</text>
<text x="60.1" y="744.2">1.0</text>
<text x="60.1" y="700.3">1.5</text>
<text x="60.1" y="656.3">2.0</text>
<text x="60.1" y="612.4">2.5</text>
<text x="60.1" y="568.5">3.0</text>
<text x="60.1" y="524.6">3.5</text>
<text x="60.1" y="480.7">4.0</text>
</g></g>
<rect x="340.7" y="446.1" width="239.7" height="184.2" fill="#fff" stroke="#1c1c1c" stroke-width="1.1"/>
<path d="M344.1 463.5H398.9" stroke="#4d4d4d" stroke-width="6"/>
<path d="M344.1 499.9H398.9" stroke="#f03c3c" stroke-width="6"/>
<path d="M344.1 536.3H398.9" stroke="#0000ff" stroke-width="6"/>
<path d="M344.1 572.7H398.9" stroke="#00ff00" stroke-width="6"/>
<path d="M344.1 609.1H398.9" stroke="#ff80ff" stroke-width="6"/>
<g font-family='"Liberation Sans", Arial, Helvetica, sans-serif' font-weight="bold" font-size="23" fill="#000" transform="translate(406.9 0) scale(1.008 1) translate(-406.9 0)">
<text x="406.9" y="471.4" id="lg340_0">Bi<tspan font-size="17" dy="6.4">2</tspan><tspan dy="-6.4">O</tspan><tspan font-size="17" dy="6.4">3</tspan></text>
<text x="406.9" y="507.8" id="lg340_1">Bi<tspan font-size="17" dy="6.4">1.975</tspan><tspan dy="-6.4">Mn</tspan><tspan font-size="17" dy="6.4">0.025</tspan><tspan dy="-6.4">O</tspan><tspan font-size="17" dy="6.4">3</tspan></text>
<text x="406.9" y="544.2" id="lg340_2">Bi<tspan font-size="17" dy="6.4">1.950</tspan><tspan dy="-6.4">Mn</tspan><tspan font-size="17" dy="6.4">0.050</tspan><tspan dy="-6.4">O</tspan><tspan font-size="17" dy="6.4">3</tspan></text>
<text x="406.9" y="580.6" id="lg340_3">Bi<tspan font-size="17" dy="6.4">1.925</tspan><tspan dy="-6.4">Mn</tspan><tspan font-size="17" dy="6.4">0.075</tspan><tspan dy="-6.4">O</tspan><tspan font-size="17" dy="6.4">3</tspan></text>
<text x="406.9" y="617" id="lg340_4">Bi<tspan font-size="17" dy="6.4">1.900</tspan><tspan dy="-6.4">Mn</tspan><tspan font-size="17" dy="6.4">0.100</tspan><tspan dy="-6.4">O</tspan><tspan font-size="17" dy="6.4">3</tspan></text>
</g>
<text x="262.3" y="491.7" text-anchor="middle" font-family='"Liberation Sans", Arial, Helvetica, sans-serif' font-weight="bold" font-size="46" id="lc">(c)</text>
<text transform="translate(22.7 613.8) rotate(-90)" text-anchor="middle" font-family='"Liberation Sans", Arial, Helvetica, sans-serif' font-weight="bold" font-size="24" id="yc" stroke="#000" stroke-width="0.4">(n<tspan font-size="16.5" dy="-10">2</tspan><tspan dy="10">-1)</tspan><tspan font-size="16.5" dy="-10">-1</tspan></text>
<text x="319.2" y="840" text-anchor="middle" font-family='"Liberation Sans", Arial, Helvetica, sans-serif' font-weight="bold" font-size="24" id="xc" textLength="156" lengthAdjust="spacingAndGlyphs" stroke="#000" stroke-width="0.5">1/λ<tspan font-size="16.5" dy="-10">2</tspan><tspan dy="10"> 10</tspan><tspan font-size="16.5" dy="-10">13</tspan><tspan dy="10"> (m</tspan><tspan font-size="16.5" dy="-10">-2</tspan><tspan dy="10">)</tspan></text>
</g>
<g id="panel-d">
<path d="M753.6 783.6v-5.2M753.6 442.1v5.2M850.1 783.6v-5.2M850.1 442.1v5.2M946.6 783.6v-5.2M946.6 442.1v5.2M1043 783.6v-5.2M1043 442.1v5.2M1139.5 783.6v-5.2M1139.5 442.1v5.2M705.4 783.6v-2.2M705.4 442.1v2.2M801.8 783.6v-2.2M801.8 442.1v2.2M898.3 783.6v-2.2M898.3 442.1v2.2M994.8 783.6v-2.2M994.8 442.1v2.2M1091.3 783.6v-2.2M1091.3 442.1v2.2M663.5 777.3h5.2M1179 777.3h-5.2M663.5 727.7h5.2M1179 727.7h-5.2M663.5 678.1h5.2M1179 678.1h-5.2M663.5 628.4h5.2M1179 628.4h-5.2M663.5 578.8h5.2M1179 578.8h-5.2M663.5 529.2h5.2M1179 529.2h-5.2M663.5 479.6h5.2M1179 479.6h-5.2M663.5 752.5h2.2M1179 752.5h-2.2M663.5 702.9h2.2M1179 702.9h-2.2M663.5 653.2h2.2M1179 653.2h-2.2M663.5 603.6h2.2M1179 603.6h-2.2M663.5 554h2.2M1179 554h-2.2M663.5 504.4h2.2M1179 504.4h-2.2M663.5 454.8h2.2M1179 454.8h-2.2" stroke="#000" stroke-width="3" fill="none"/>
<rect x="662" y="440.6" width="518.5" height="344.5" fill="none" stroke="#000" stroke-width="3"/>
<clipPath id="clip-d"><rect x="662" y="440.6" width="518.5" height="344.5"/></clipPath>
<g clip-path="url(#clip-d)" fill="none" stroke-linejoin="round" stroke-width="6.4">
<path d="M661 605C661.2 605.3 659.9 603.7 662.5 606.8C665.1 609.8 671.7 618.4 676.4 623.4C681 628.5 685.6 633 690.2 637.2C694.8 641.3 699.4 645 704.1 648.3C708.7 651.7 713.3 654.6 717.9 657.3C722.5 660 727.2 662.3 731.8 664.5C736.4 666.6 741 668.5 745.6 670.2C750.2 671.9 754.9 673.4 759.5 674.9C764.1 676.3 768.7 677.6 773.3 678.9C778 680.2 782.6 681.4 787.2 682.6C791.8 683.9 796.4 685.1 801 686.2C805.7 687.4 810.3 688.6 814.9 689.8C819.5 690.9 824.1 692.1 828.8 693.2C833.4 694.3 838 695.4 842.6 696.5C847.2 697.6 851.8 698.7 856.5 699.7C861.1 700.8 865.7 701.8 870.3 702.9C874.9 703.9 879.5 704.9 884.2 705.9C888.8 706.9 893.4 707.9 898 708.9C902.6 709.9 907.3 710.8 911.9 711.8C916.5 712.7 921.1 713.7 925.7 714.6C930.3 715.5 935 716.4 939.6 717.3C944.2 718.2 948.8 719.1 953.4 720C958.1 720.8 962.7 721.7 967.3 722.5C971.9 723.4 976.5 724.2 981.1 725.1C985.8 725.9 991.3 727 995 727.5C998.7 728 1000.8 727.7 1003.3 728.3C1005.8 728.9 1007.8 730 1010 731C1012.2 732 1013.9 733.7 1016.7 734.2C1019.5 734.7 1022.8 734 1026.7 734.2C1030.6 734.4 1035.6 734.8 1040 735.5C1044.4 736.2 1048.8 737.3 1053.2 738.1C1057.6 739 1062 739.8 1066.3 740.6C1070.7 741.5 1075.1 742.3 1079.5 743.1C1083.9 743.9 1088.3 744.8 1092.7 745.7C1097.1 746.5 1101.5 747.4 1105.9 748.4C1110.2 749.4 1114.6 750.3 1119 751.4C1123.4 752.5 1126.3 753.1 1132.2 754.8C1138.1 756.5 1148.6 759.5 1154.6 761.6C1160.6 763.7 1164.3 765.2 1168.1 767.2C1171.8 769.2 1174.9 772.2 1177.1 773.9C1179.3 775.6 1180.8 776.6 1181.5 777.2" stroke="#4d4d4d" stroke-width="5.4"/>
<path d="M661 583.6C661.4 583.8 660.6 583.3 663.3 585C666 586.7 672.5 591 677.1 593.8C681.7 596.6 686.3 599.3 690.9 601.9C695.5 604.5 700.2 607 704.8 609.4C709.4 611.8 714 614.1 718.6 616.3C723.2 618.5 727.8 620.6 732.4 622.6C737 624.7 741.6 626.6 746.2 628.5C750.8 630.4 755.4 632.2 760 634C764.7 635.7 769.3 637.4 773.9 639C778.5 640.6 783.1 642.1 787.7 643.6C792.3 645.1 796.9 646.6 801.5 648C806.1 649.4 810.7 650.7 815.3 652C819.9 653.3 824.5 654.6 829.1 655.8C833.8 657 838.4 658.2 843 659.4C847.6 660.6 852.2 661.7 856.8 662.8C861.4 664 866 665.1 870.6 666.2C875.2 667.3 879.8 668.3 884.4 669.4C889 670.5 893.6 671.5 898.3 672.6C902.9 673.7 907.5 674.7 912.1 675.8C916.7 676.9 921.3 678 925.9 679.1C930.5 680.2 935.1 681.3 939.7 682.4C944.3 683.6 948.9 684.7 953.5 685.9C958.1 687.1 962.8 688.3 967.4 689.5C972 690.8 976.6 692.1 981.2 693.4C985.8 694.7 989.4 696 995 697.5C1000.6 699 1007.5 701 1015 702.5C1022.5 704 1033.5 705.5 1040 706.8C1046.5 708 1045.8 708.4 1053.7 710C1061.6 711.6 1081 715.3 1087.3 716.2C1093.6 717.1 1086.2 714.8 1091.8 715.6C1097.4 716.4 1110.5 719 1121 721.2C1131.5 723.4 1145.1 726.8 1154.6 729C1164.1 731.2 1173.7 733.5 1178.2 734.6C1182.7 735.7 1181 735.3 1181.5 735.4" stroke="#f03c3c" stroke-width="5.8"/>
<path d="M661 561.1C661.4 561.5 660.6 560.8 663.3 563.3C666 565.8 672.5 572.3 677.1 576.3C681.7 580.4 686.3 584.1 690.9 587.6C695.5 591.1 700.2 594.4 704.8 597.4C709.4 600.5 714 603.3 718.6 606C723.2 608.7 727.8 611.2 732.4 613.6C737 616.1 741.6 618.4 746.2 620.6C750.8 622.8 755.4 624.9 760 626.9C764.7 629 769.3 630.9 773.9 632.8C778.5 634.7 783.1 636.5 787.7 638.3C792.3 640.2 796.9 641.9 801.5 643.7C806.1 645.4 810.7 647.1 815.3 648.8C819.9 650.5 824.5 652.2 829.1 653.9C833.8 655.6 838.4 657.2 843 658.8C847.6 660.5 852.2 662.1 856.8 663.7C861.4 665.3 866 666.8 870.6 668.4C875.2 670 879.8 671.5 884.4 673C889 674.6 893.6 676.1 898.3 677.5C902.9 679 907.5 680.5 912.1 682C916.7 683.4 921.3 684.8 925.9 686.2C930.5 687.6 935.1 689 939.7 690.4C944.3 691.7 948.9 693 953.5 694.3C958.1 695.5 962.8 696.7 967.4 697.9C972 699.1 976.6 700.2 981.2 701.2C985.8 702.3 989.4 702.6 995 704.2C1000.6 705.8 1009.4 709.3 1015 710.8C1020.6 712.3 1024.1 712 1028.7 712.9C1033.2 713.8 1037.8 714.9 1042.3 716.1C1046.9 717.3 1051.4 718.6 1056 720C1060.5 721.4 1065.1 722.8 1069.6 724.3C1074.2 725.7 1078.7 727.2 1083.3 728.6C1087.8 729.9 1092.4 731.2 1097 732.6C1101.5 733.9 1106.1 735.1 1110.6 736.5C1115.2 737.8 1119.7 739.2 1124.3 740.8C1128.8 742.3 1133.4 744 1137.9 745.9C1142.5 747.9 1147 750 1151.6 752.5C1156.1 755 1160.7 757.1 1165.2 761C1169.8 765 1176.2 773.2 1178.9 776.2C1181.6 779.2 1181.1 778.6 1181.5 779" stroke="#0000ff" stroke-width="6.4"/>
<path d="M661 529.9C661.4 530.3 660.6 529.4 663.3 532.5C666 535.7 672.5 543.7 677.1 548.7C681.7 553.6 686.3 557.9 690.9 562C695.5 566 700.2 569.6 704.8 573C709.4 576.3 714 579.3 718.6 582.1C723.2 584.9 727.8 587.3 732.4 589.7C737 592.1 741.6 594.3 746.2 596.4C750.8 598.5 755.4 600.4 760 602.3C764.7 604.2 769.3 605.9 773.9 607.7C778.5 609.4 783.1 611 787.7 612.6C792.3 614.2 796.9 615.8 801.5 617.3C806.1 618.9 810.7 620.4 815.3 621.9C819.9 623.5 824.5 625 829.1 626.4C833.8 627.9 838.4 629.4 843 630.8C847.6 632.3 852.2 633.7 856.8 635.1C861.4 636.5 866 637.9 870.6 639.3C875.2 640.6 879.8 642 884.4 643.3C889 644.6 893.6 645.9 898.3 647.2C902.9 648.5 907.5 649.7 912.1 651C916.7 652.2 921.3 653.4 925.9 654.6C930.5 655.7 935.1 656.9 939.7 658C944.3 659.1 948.9 660.2 953.5 661.3C958.1 662.3 962.8 663.4 967.4 664.4C972 665.4 976.6 666.3 981.2 667.3C985.8 668.2 989.4 668.8 995 670C1000.6 671.2 1009.4 673.1 1015 674.2C1020.6 675.3 1024.1 675.7 1028.6 676.4C1033.1 677.2 1037.7 678 1042.2 678.7C1046.7 679.5 1051.3 680.2 1055.8 681C1060.3 681.8 1064.9 682.5 1069.4 683.3C1073.9 684.1 1078.5 684.8 1083 685.6C1087.5 686.4 1092.1 687.1 1096.6 687.9C1101.1 688.7 1105.7 689.4 1110.2 690.2C1114.7 690.9 1119.3 691.7 1123.8 692.4C1128.3 693.2 1132.9 693.9 1137.4 694.7C1141.9 695.4 1146.5 696.1 1151 696.8C1155.5 697.5 1160.1 698.2 1164.6 698.9C1169.1 699.6 1175.4 700.6 1178.2 701C1181 701.4 1181 701.4 1181.5 701.5" stroke="#00ff00" stroke-width="6.3"/>
<path d="M661 505.4C661.4 505.9 660.6 504.8 663.3 508.4C666 511.9 672.6 521.4 677.2 526.4C681.9 531.4 686.5 535 691.1 538.4C695.8 541.7 700.4 544.1 705 546.5C709.7 548.9 714.3 550.8 719 552.7C723.6 554.5 728.2 556.1 732.9 557.6C737.5 559.2 742.2 560.5 746.8 561.8C751.4 563.2 756.1 564.4 760.7 565.6C765.4 566.9 770 568.1 774.6 569.3C779.3 570.5 783.9 571.7 788.5 572.8C793.2 574 797.8 575.1 802.5 576.3C807.1 577.4 811.7 578.5 816.4 579.6C821 580.7 825.7 581.8 830.3 582.8C834.9 583.9 839.6 585 844.2 586C848.8 587.1 853.5 588.1 858.1 589.1C862.8 590.2 867.4 591.2 872 592.2C876.7 593.2 881.3 594.2 886 595.2C890.6 596.2 895.2 597.2 899.9 598.2C904.5 599.2 909.2 600.1 913.8 601.1C918.4 602 923.1 603 927.7 603.9C932.3 604.9 937 605.8 941.6 606.7C946.3 607.6 950.9 608.5 955.5 609.4C960.2 610.3 964.8 611.2 969.5 612.1C974.1 612.9 978.7 613.8 983.4 614.6C988 615.5 992.7 616.3 997.3 617.1C1001.9 617.9 1006.6 618.7 1011.2 619.5C1015.8 620.3 1020.5 621.1 1025.1 621.9C1029.8 622.6 1034.4 623.4 1039 624.1C1043.7 624.8 1048.3 625.5 1053 626.2C1057.6 627 1062.2 627.6 1066.9 628.3C1071.5 629 1076.1 629.6 1080.8 630.3C1085.4 630.9 1090.1 631.5 1094.7 632.1C1099.3 632.7 1104 633.3 1108.6 633.9C1113.3 634.5 1117.9 635 1122.5 635.6C1127.2 636.1 1131.8 636.6 1136.5 637.1C1141.1 637.6 1145.7 638.1 1150.4 638.6C1155 639 1159.6 639.5 1164.3 639.9C1168.9 640.3 1175.3 640.8 1178.2 641.1C1181.1 641.3 1181 641.3 1181.5 641.4" stroke="#ff80ff" stroke-width="5.5"/>
</g>
<path d="M802 688L995 727.5M802 647.5L995 698M802 646L995 704.2M802 619.5L995 670.8M802 577.5L995 616.7" stroke="#ff8000" stroke-width="3.4" fill="none"/>
<g font-family='"Liberation Sans", Arial, Helvetica, sans-serif' font-weight="bold" font-size="20.6" fill="#000" stroke="#000" stroke-width="0.3">
<g text-anchor="middle">
<text x="753.6" y="808.7">2</text>
<text x="850.1" y="808.7">3</text>
<text x="946.6" y="808.7">4</text>
<text x="1043" y="808.7">5</text>
<text x="1139.5" y="808.7">6</text>
</g><g text-anchor="end">
<text x="654.4" y="783.2">1.0</text>
<text x="654.4" y="733.6">1.2</text>
<text x="654.4" y="684">1.4</text>
<text x="654.4" y="634.3">1.6</text>
<text x="654.4" y="584.7">1.8</text>
<text x="654.4" y="535.1">2.0</text>
<text x="654.4" y="485.5">2.2</text>
</g></g>
<rect x="973.5" y="431.1" width="225.6" height="175.5" fill="#fff" stroke="#1c1c1c" stroke-width="1.1"/>
<path d="M977 448.3H1028.5" stroke="#4d4d4d" stroke-width="6"/>
<path d="M977 482.8H1028.5" stroke="#f03c3c" stroke-width="6"/>
<path d="M977 517.2H1028.5" stroke="#0000ff" stroke-width="6"/>
<path d="M977 551.6H1028.5" stroke="#00ff00" stroke-width="6"/>
<path d="M977 586.1H1028.5" stroke="#ff80ff" stroke-width="6"/>
<g font-family='"Liberation Sans", Arial, Helvetica, sans-serif' font-weight="bold" font-size="21.7" fill="#000" transform="translate(1035.6 0) scale(1.008 1) translate(-1035.6 0)">
<text x="1035.6" y="455.8" id="lg973_0">Bi<tspan font-size="16" dy="6">2</tspan><tspan dy="-6">O</tspan><tspan font-size="16" dy="6">3</tspan></text>
<text x="1035.6" y="490.2" id="lg973_1">Bi<tspan font-size="16" dy="6">1.975</tspan><tspan dy="-6">Mn</tspan><tspan font-size="16" dy="6">0.025</tspan><tspan dy="-6">O</tspan><tspan font-size="16" dy="6">3</tspan></text>
<text x="1035.6" y="524.7" id="lg973_2">Bi<tspan font-size="16" dy="6">1.950</tspan><tspan dy="-6">Mn</tspan><tspan font-size="16" dy="6">0.050</tspan><tspan dy="-6">O</tspan><tspan font-size="16" dy="6">3</tspan></text>
<text x="1035.6" y="559.1" id="lg973_3">Bi<tspan font-size="16" dy="6">1.925</tspan><tspan dy="-6">Mn</tspan><tspan font-size="16" dy="6">0.075</tspan><tspan dy="-6">O</tspan><tspan font-size="16" dy="6">3</tspan></text>
<text x="1035.6" y="593.6" id="lg973_4">Bi<tspan font-size="16" dy="6">1.900</tspan><tspan dy="-6">Mn</tspan><tspan font-size="16" dy="6">0.100</tspan><tspan dy="-6">O</tspan><tspan font-size="16" dy="6">3</tspan></text>
</g>
<text x="827.5" y="488.1" text-anchor="middle" font-family='"Liberation Sans", Arial, Helvetica, sans-serif' font-weight="bold" font-size="46" id="ld">(d)</text>
<text transform="translate(623.7 604.5) rotate(-90)" text-anchor="middle" font-family='"Liberation Sans", Arial, Helvetica, sans-serif' font-weight="bold" font-size="24" id="yd" stroke="#000" stroke-width="0.4">n<tspan font-size="16.5" dy="-10">2</tspan></text>
<text x="914.2" y="840.8" text-anchor="middle" font-family='"Liberation Sans", Arial, Helvetica, sans-serif' font-weight="bold" font-size="24" id="xd" textLength="133.5" lengthAdjust="spacingAndGlyphs" stroke="#000" stroke-width="0.5">λ<tspan font-size="16.5" dy="-10">2</tspan><tspan dy="10"> 10</tspan><tspan font-size="16.5" dy="-10">-13</tspan><tspan dy="10">(m</tspan><tspan font-size="16.5" dy="-10">2</tspan><tspan dy="10">)</tspan></text>
</g>
</svg></body></html>
